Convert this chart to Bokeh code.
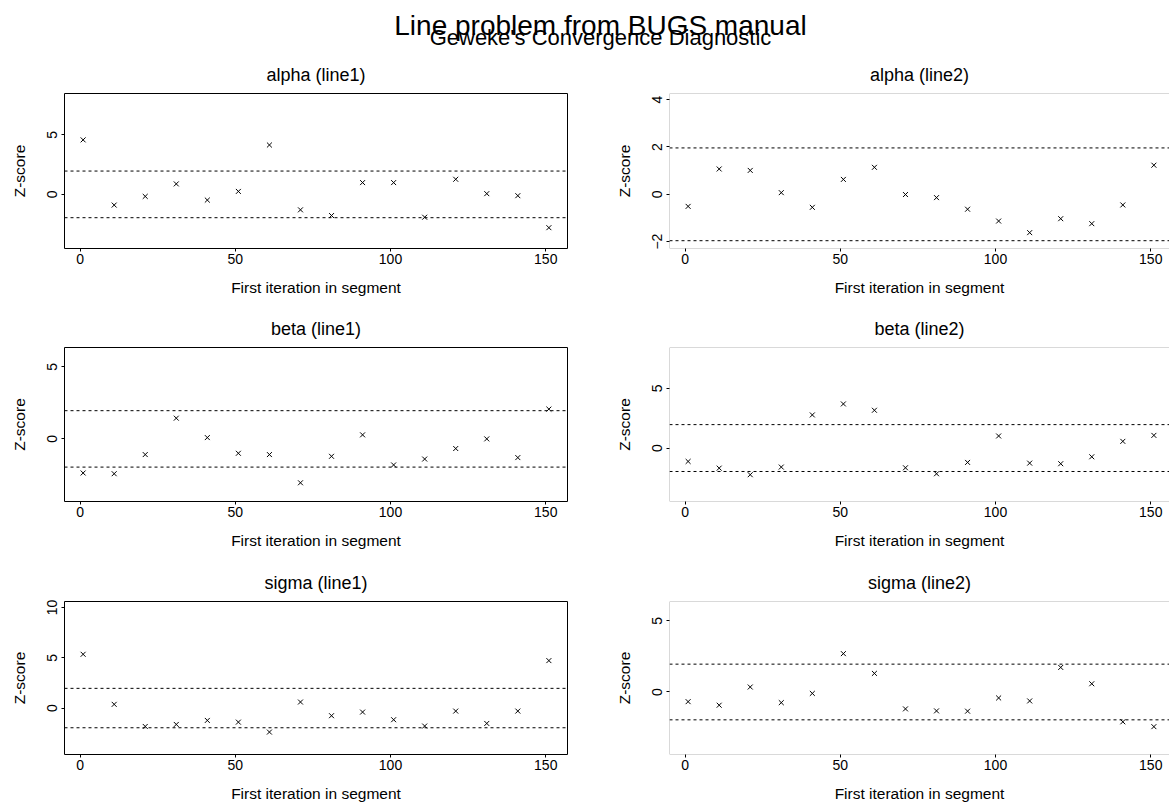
from bokeh.plotting import figure
from bokeh.layouts import column, row
from bokeh.models import Range1d, FixedTicker, Span, BoxAnnotation
from bokeh.embed import file_html
from bokeh.resources import INLINE
from bokeh.core.properties import value

FONT = "Liberation Sans"

# ---- data ----
iterations = [1, 11, 21, 31, 41, 51, 61, 71, 81, 91, 101, 111, 121, 131, 141, 151]
x_ticks = [0, 50, 100, 150]

alpha_line1 = [4.58, -0.90, -0.17, 0.88, -0.48, 0.25, 4.15, -1.30, -1.78, 0.99, 0.99, -1.92, 1.27, 0.06, -0.11, -2.80]
alpha_line2 = [-0.51, 1.07, 1.01, 0.07, -0.55, 0.63, 1.14, -0.01, -0.14, -0.63, -1.13, -1.62, -1.03, -1.24, -0.45, 1.23]
beta_line1 = [-2.37, -2.42, -1.09, 1.44, 0.09, -1.00, -1.09, -3.05, -1.21, 0.28, -1.81, -1.40, -0.67, 0.00, -1.30, 2.07]
beta_line2 = [-1.12, -1.68, -2.23, -1.59, 2.77, 3.69, 3.16, -1.65, -2.15, -1.20, 1.01, -1.26, -1.31, -0.73, 0.56, 1.06]
sigma_line1 = [5.35, 0.37, -1.83, -1.63, -1.23, -1.40, -2.39, 0.60, -0.76, -0.40, -1.16, -1.79, -0.30, -1.53, -0.30, 4.72]
sigma_line2 = [-0.68, -0.93, 0.35, -0.75, -0.10, 2.70, 1.31, -1.19, -1.33, -1.35, -0.42, -0.63, 1.73, 0.58, -2.10, -2.44]

panel_titles = ["alpha (line1)", "alpha (line2)", "beta (line1)", "beta (line2)", "sigma (line1)", "sigma (line2)"]
panel_series = [alpha_line1, alpha_line2, beta_line1, beta_line2, sigma_line1, sigma_line2]
y_limits = [(-4.55, 8.48), (-2.29, 4.26), (-4.35, 6.35), (-4.47, 8.41), (-4.62, 10.6), (-4.4, 6.37)]
y_ticks = [[0, 5], [-2, 0, 2, 4], [0, 5], [0, 5], [0, 5, 10], [0, 5]]
x_limits = (-5, 157)
z_crit = 1.96

main_title = "Line problem from BUGS manual"
sub_title = "Geweke's Convergence Diagnostic"
x_label = "First iteration in segment"
y_label = "Z-score"

# ---- layout geometry (page origin at top-left) ----
COL_W = [605, 564]
BORDER_L = 64
BORDER_R = [38, 0]
ROW_H = [248, 254, 248]
ROW_TOP = [39, 45, 45]
ROW_BOTTOM = [54, 55, 50]
HEADER_H = 54
FRAME_W_LEFT = COL_W[0] - BORDER_L - BORDER_R[0]
PX_PER_UNIT = FRAME_W_LEFT / (x_limits[1] - x_limits[0])


def make_panel(i):
    col = i % 2
    r = i // 2
    frame_w = COL_W[col] - BORDER_L - BORDER_R[col]
    x_end = x_limits[0] + frame_w / PX_PER_UNIT
    p = figure(width=COL_W[col], height=ROW_H[r],
               x_range=Range1d(x_limits[0], x_end),
               y_range=Range1d(*y_limits[i]),
               output_backend="svg", toolbar_location=None,
               min_border_left=BORDER_L, min_border_right=BORDER_R[col],
               min_border_top=ROW_TOP[r], min_border_bottom=ROW_BOTTOM[r],
               title=panel_titles[i])
    p.background_fill_color = "white"
    p.border_fill_color = "white"
    p.grid.visible = False
    p.title.align = "center"
    p.title.text_font = FONT
    p.title.text_font_size = "18px"
    p.title.text_font_style = "normal"
    p.title.text_color = "black"
    if "standoff" in p.title.properties():
        p.title.standoff = 17

    if col == 0:
        p.outline_line_color = "black"
        p.outline_line_width = 1
        p.outline_line_alpha = 1
    else:
        p.outline_line_color = None
        p.add_layout(BoxAnnotation(left=x_limits[0], right=x_end + 30,
                                   bottom=y_limits[i][0], top=y_limits[i][1],
                                   fill_alpha=0, line_color="black", line_width=1))

    for ax in (p.xaxis[0], p.yaxis[0]):
        ax.axis_line_color = None
        ax.major_tick_in = 0
        ax.major_tick_out = 3
        ax.major_tick_line_color = "black"
        ax.minor_tick_line_color = None
        ax.major_label_text_font = FONT
        ax.major_label_text_font_size = "14px"
        ax.major_label_text_color = "black"
        ax.axis_label_text_font = FONT
        ax.axis_label_text_font_size = "15.5px"
        ax.axis_label_text_font_style = "normal"
        ax.axis_label_text_color = "black"

    p.xaxis.ticker = FixedTicker(ticks=x_ticks)
    p.xaxis.axis_label = x_label
    p.xaxis.major_label_standoff = 2
    p.xaxis.axis_label_standoff = 12

    p.yaxis.ticker = FixedTicker(ticks=y_ticks[i])
    p.yaxis.axis_label = y_label
    p.yaxis.major_label_orientation = "vertical"
    p.yaxis.major_label_standoff = 4
    p.yaxis.axis_label_standoff = 17

    for loc in (z_crit, -z_crit):
        p.add_layout(Span(location=loc, dimension="width", line_color="black",
                          line_width=1, line_dash="3 3"))

    p.scatter(iterations, panel_series[i], marker="x", size=7,
              line_color="black", line_width=1)
    return p


HEADER_W = sum(COL_W)
header = figure(width=HEADER_W, height=HEADER_H, title=None,
                x_range=Range1d(0, HEADER_W), y_range=Range1d(0, HEADER_H),
                x_axis_type=None, y_axis_type=None,
                output_backend="svg", toolbar_location=None,
                min_border_left=0, min_border_right=0,
                min_border_top=0, min_border_bottom=0)
header.outline_line_color = None
header.grid.visible = False
header.text(x=[600], y=[HEADER_H - 25], text=[main_title],
            text_font=value(FONT), text_font_size="28px",
            text_align="center", text_baseline="alphabetic", text_color="black")
header.text(x=[600], y=[HEADER_H - 37], text=[sub_title],
            text_font=value(FONT), text_font_size="22px",
            text_align="center", text_baseline="alphabetic", text_color="black")

panels = [make_panel(i) for i in range(6)]
layout = column(header,
                row(panels[0], panels[1]),
                row(panels[2], panels[3]),
                row(panels[4], panels[5]))

open("out.html", "w").write(file_html(layout, INLINE))
